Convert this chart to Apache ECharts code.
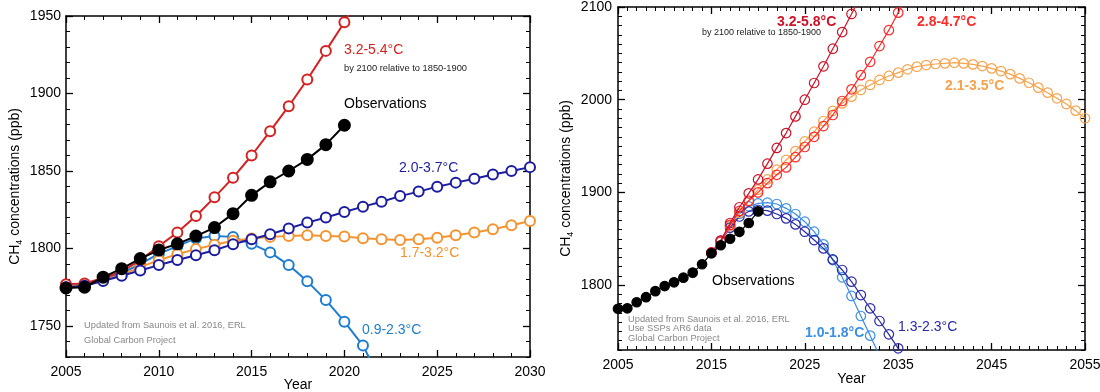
<!DOCTYPE html>
<html>
<head>
<meta charset="utf-8">
<script src="https://cdn.jsdelivr.net/npm/echarts@6/dist/echarts.min.js"></script>
<style>
html,body{margin:0;padding:0;background:#fff;}
#chart{width:1100px;height:392px;}
</style>
</head>
<body>
<div id="chart"></div>
<script>
// ---------- DATA ----------
// Left panel (2005-2030)
const obsStart = 2005;
const obsValues = [1774.5, 1775, 1781.5, 1787, 1793.5, 1799, 1803, 1808, 1813.5, 1822.5, 1834.3, 1843, 1850, 1857.5, 1867, 1879.5];

const leftStart = 2005;
const leftRed = [1777, 1777.5, 1781, 1785, 1792.5, 1801.5, 1810.3, 1821, 1833, 1845.7, 1860, 1875.7, 1891.8, 1909, 1927.5, 1946, 1968];
const leftLightBlue = [1776, 1776.5, 1780, 1784, 1790, 1796.5, 1801.5, 1806.5, 1808, 1807.5, 1803, 1797.5, 1789.3, 1778.8, 1766.7, 1752.8, 1737.4, 1714];
const leftOrange = [1776, 1776, 1779.5, 1783, 1788, 1792.5, 1796.3, 1799.6, 1802.4, 1805, 1806.5, 1807.5, 1808, 1808.5, 1808, 1807.7, 1806.6, 1806, 1805.5, 1806, 1807, 1808.5, 1810.3, 1812.4, 1815, 1817.8];
const leftNavy = [1775, 1776, 1779, 1782.4, 1785.8, 1789.3, 1792.6, 1795.7, 1798.9, 1802.8, 1806, 1809.2, 1812.9, 1816.7, 1820, 1823.6, 1827, 1830.2, 1833.8, 1836.7, 1839.9, 1842.5, 1845, 1847.8, 1850, 1852.5];

// Right panel (2005-2055), SSP projections start 2015
const rightStart = 2015;
const rightDarkRed = [1835, 1848, 1867, 1884, 1899, 1914, 1931, 1948, 1964, 1982, 2000, 2018, 2036, 2055, 2073, 2092.5, 2112];
const rightRed = [1835, 1847, 1865, 1880, 1891, 1900, 1910, 1919, 1927, 1938, 1949, 1960, 1971.6, 1983.5, 1998.6, 2011.2, 2026.5, 2040.9, 2057.9, 2075, 2093.9, 2113];
const rightOrange = [1835, 1847, 1864, 1878, 1891, 1903, 1914, 1924.5, 1935, 1944.5, 1955, 1965.5, 1977, 1988, 1996, 2003.3, 2010.5, 2015.9, 2021.3, 2025.6, 2029.2, 2032.8, 2035.6, 2037.4, 2038.5, 2039.2, 2039.9, 2039.2, 2038.1, 2036.3, 2033.8, 2030.9, 2027.6, 2023, 2018.3, 2013, 2007.6, 2001.5, 1995.4, 1988.2, 1980];
const rightLightBlue = [1835, 1848, 1864, 1877, 1885, 1888.2, 1888.9, 1887.5, 1882.8, 1876.7, 1868.4, 1857.6, 1844, 1827, 1808.4, 1788.3, 1766.7, 1745.5, 1724];
const rightNavy = [1835, 1847, 1862, 1874, 1879.5, 1881, 1880.3, 1876.7, 1872, 1865.5, 1857.6, 1848.6, 1839.6, 1827.7, 1816.3, 1803.7, 1789.3, 1775, 1761.3, 1746.9, 1731.8, 1717];

// Tick labels
const leftYTicks = [1750, 1800, 1850, 1900, 1950];
const rightYTicks = [1800, 1900, 2000, 2100];
const rightXTicks = [2005, 2015, 2025, 2035, 2045, 2055];

// ---------- HELPERS ----------
function pairs(start, vals){ return vals.map((v,i)=>[start+i, v]); }
const FONT = '"Liberation Sans", Arial, Helvetica, sans-serif';
const plain = v => String(v);

function mainX(grid, min, max, pos, interval, custom, labels, nameGap){
  const a = {
    type:'value', gridIndex:grid, min:min, max:max, position:pos, interval:interval,
    axisLine:{show:true, onZero:false, lineStyle:{color:'#000', width:1.5}},
    axisTick:{show:true, inside:true, length:7, lineStyle:{color:'#000', width:1.3}},
    axisLabel:{show:labels, color:'#000', fontSize:14, fontFamily:FONT, margin:8, formatter:plain},
    splitLine:{show:false}
  };
  if (custom){ a.axisTick.customValues = custom; a.axisLabel.customValues = custom; }
  if (labels){ a.name='Year'; a.nameLocation='middle'; a.nameGap=nameGap; a.nameMoveOverlap=false;
    a.nameTextStyle={color:'#000', fontSize:14, fontFamily:FONT}; }
  return a;
}
function minorX(grid, min, max, pos){
  return {type:'value', gridIndex:grid, min:min, max:max, position:pos, interval:1,
    axisLine:{show:false}, axisLabel:{show:false}, splitLine:{show:false},
    axisTick:{show:true, inside:true, length:4, lineStyle:{color:'#000', width:1}}};
}
function mainY(grid, min, max, pos, custom, labels, nameGap, margin){
  const a = {
    type:'value', gridIndex:grid, min:min, max:max, position:pos, interval:10,
    axisLine:{show:true, onZero:false, lineStyle:{color:'#000', width:1.5}},
    axisTick:{show:true, inside:true, length:7, customValues:custom, lineStyle:{color:'#000', width:1.3}},
    axisLabel:{show:labels, customValues:custom, color:'#000', fontSize:14, fontFamily:FONT, margin:margin, formatter:plain},
    splitLine:{show:false}
  };
  if (labels){
    a.name='{a|CH}{s|4}{a| concentrations (ppb)}';
    a.nameLocation='middle'; a.nameGap=nameGap; a.nameRotate=90;
    a.nameTextStyle={color:'#000', fontFamily:FONT,
      rich:{a:{fontSize:14, fontFamily:FONT, color:'#000'}, s:{fontSize:9, fontFamily:FONT, color:'#000', padding:[9,0,0,0]}}};
  }
  return a;
}
function minorY(grid, min, max, pos){
  return {type:'value', gridIndex:grid, min:min, max:max, position:pos, interval:10,
    axisLine:{show:false}, axisLabel:{show:false}, splitLine:{show:false},
    axisTick:{show:true, inside:true, length:4, lineStyle:{color:'#000', width:1}}};
}

function lineSeries(name, xi, yi, data, color, width, size, fill, z){
  return {name:name, type:'line', xAxisIndex:xi, yAxisIndex:yi, data:data,
    symbol:'circle', symbolSize:size, showSymbol:true, clip:true, z:z,
    lineStyle:{color:color, width:width},
    itemStyle:{color:fill, borderColor:color, borderWidth:width},
    emphasis:{disabled:true}, silent:true};
}

const C = {
  lRed:'#d42222', lLight:'#1f7dd0', lOrange:'#f5932f', lNavy:'#1c1ca0',
  rDark:'#cc1128', rRed:'#ff2a2a', rOrange:'#f7a24c', rLight:'#3b8fe2', rNavy:'#2a2aa8'
};

const series = [
  lineSeries('L 0.9-2.3', 0, 0, pairs(leftStart,leftLightBlue), C.lLight, 2, 10, '#fff', 2),
  lineSeries('L 1.7-3.2', 0, 0, pairs(leftStart,leftOrange), C.lOrange, 2, 10, '#fff', 3),
  lineSeries('L 3.2-5.4', 0, 0, pairs(leftStart,leftRed), C.lRed, 2, 10, '#fff', 4),
  lineSeries('L 2.0-3.7', 0, 0, pairs(leftStart,leftNavy), C.lNavy, 2, 10, '#fff', 5),
  lineSeries('L obs', 0, 0, pairs(obsStart,obsValues), '#000', 2, 11, '#000', 6),

  lineSeries('R 1.0-1.8', 4, 4, pairs(rightStart,rightLightBlue), C.rLight, 1.2, 9.5, 'rgba(0,0,0,0)', 2),
  lineSeries('R 1.3-2.3', 4, 4, pairs(rightStart,rightNavy), C.rNavy, 1.2, 9.5, 'rgba(0,0,0,0)', 3),
  lineSeries('R 2.1-3.5', 4, 4, pairs(rightStart,rightOrange), C.rOrange, 1.2, 9.5, 'rgba(0,0,0,0)', 4),
  lineSeries('R 2.8-4.7', 4, 4, pairs(rightStart,rightRed), C.rRed, 1.2, 9.5, 'rgba(0,0,0,0)', 5),
  lineSeries('R 3.2-5.8', 4, 4, pairs(rightStart,rightDarkRed), C.rDark, 1.2, 9.5, 'rgba(0,0,0,0)', 6),
  lineSeries('R obs', 4, 4, pairs(obsStart,obsValues), '#000', 1.2, 9.5, '#000', 7)
];

function txt(x, y, text, color, size, weight){
  return {type:'text', x:x, y:y, silent:true, z:100,
    style:{text:text, fill:color, fontSize:size, fontWeight:weight||'normal', fontFamily:FONT,
      textAlign:'left', textVerticalAlign:'middle'}};
}

const graphics = [
  txt(344, 50, '3.2-5.4°C', C.lRed, 14),
  txt(344, 68, 'by 2100 relative to 1850-1900', '#222', 9.3),
  txt(344, 104, 'Observations', '#000', 14),
  txt(399, 168, '2.0-3.7°C', C.lNavy, 14),
  txt(400, 253, '1.7-3.2°C', C.lOrange, 14),
  txt(362, 330, '0.9-2.3°C', C.lLight, 14),
  txt(84, 325, 'Updated from Saunois et al. 2016, ERL', '#888', 9.3),
  txt(84, 340, 'Global Carbon Project', '#888', 9.3),

  txt(777, 22, '3.2-5.8°C', C.rDark, 14, 'bold'),
  txt(702, 33, 'by 2100 relative to 1850-1900', '#222', 9),
  txt(917, 22, '2.8-4.7°C', C.rRed, 14, 'bold'),
  txt(945, 86, '2.1-3.5°C', C.rOrange, 14, 'bold'),
  txt(712, 281, 'Observations', '#000', 14),
  txt(628, 319, 'Updated from Saunois et al. 2016, ERL', '#888', 9.3),
  txt(628, 328.5, 'Use SSPs AR6 data', '#888', 9.3),
  txt(628, 338, 'Global Carbon Project', '#888', 9.3),
  txt(805, 333, '1.0-1.8°C', C.rLight, 14, 'bold'),
  txt(898, 327, '1.3-2.3°C', C.rNavy, 14)
];

const option = {
  animation:false,
  backgroundColor:'#fff',
  grid:[
    {left:66, right:570, top:16, bottom:35, containLabel:false, outerBoundsMode:'none'},
    {left:618, right:15, top:7, bottom:42, containLabel:false, outerBoundsMode:'none'}
  ],
  xAxis:[
    mainX(0, 2005, 2030, 'bottom', 5, null, true, 21),
    minorX(0, 2005, 2030, 'bottom'),
    mainX(0, 2005, 2030, 'top', 5, null, false),
    minorX(0, 2005, 2030, 'top'),
    mainX(1, 2005, 2055, 'bottom', 5, rightXTicks, true, 22),
    minorX(1, 2005, 2055, 'bottom'),
    mainX(1, 2005, 2055, 'top', 5, rightXTicks, false),
    minorX(1, 2005, 2055, 'top')
  ],
  yAxis:[
    mainY(0, 1730, 1950, 'left', leftYTicks, true, 42, 5),
    minorY(0, 1730, 1950, 'left'),
    mainY(0, 1730, 1950, 'right', leftYTicks, false),
    minorY(0, 1730, 1950, 'right'),
    mainY(1, 1730, 2100, 'left', rightYTicks, true, 43, 6),
    minorY(1, 1730, 2100, 'left'),
    mainY(1, 1730, 2100, 'right', rightYTicks, false),
    minorY(1, 1730, 2100, 'right')
  ],
  series:series,
  graphic:graphics
};

const chart = echarts.init(document.getElementById('chart'), null, {renderer:'canvas'});
chart.setOption(option);
</script>
</body>
</html>
